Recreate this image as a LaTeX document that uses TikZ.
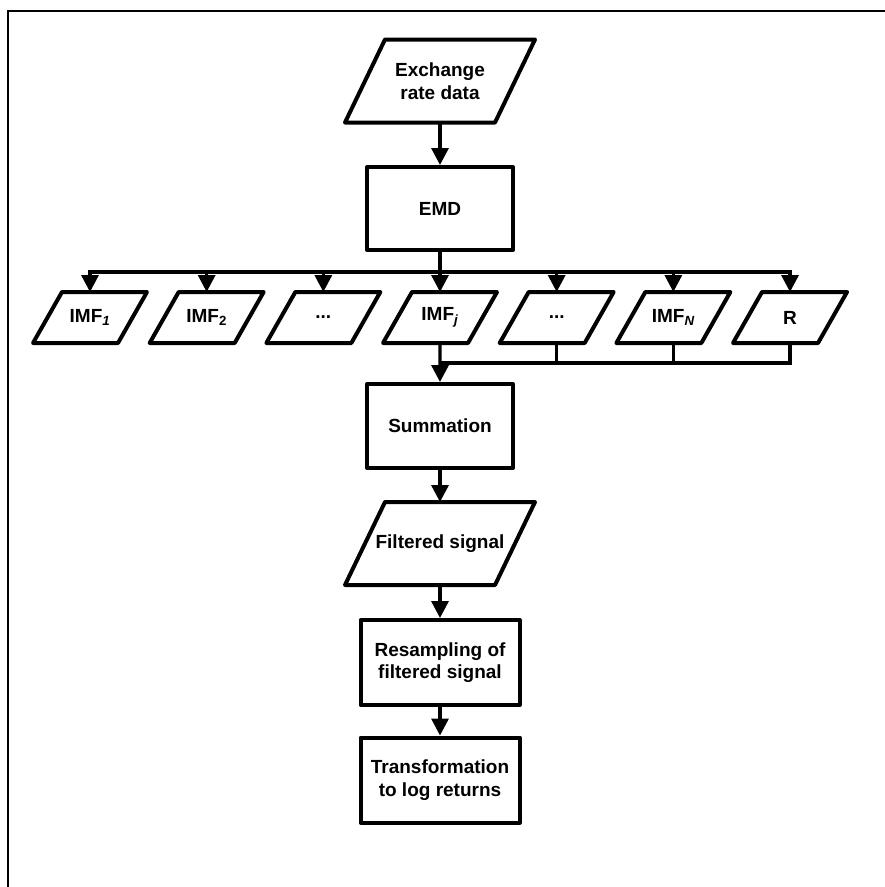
\documentclass[tikz,border=0pt]{standalone}
\usepackage{fontspec}
\setmainfont{Liberation Sans}
\usetikzlibrary{arrows.meta}
\newcommand\SlantFrame[2]{%
    \draw[frame] ([xshift=#2]#1.north west) -- ([xshift=#2]#1.north east)
        -- ([xshift=-#2]#1.south east) -- ([xshift=-#2]#1.south west) -- cycle;
}

\begin{document}
\begin{tikzpicture}[x=1pt,y=-1pt,
    every node/.style={font=\fontsize{19}{22.5}\selectfont\bfseries,align=center},
    frame/.style={line width=4pt,line join=round},
    box/.style={draw,frame,minimum width=146pt,minimum height=83pt},
    slanted/.style={inner sep=0pt,outer sep=0pt,minimum width=150pt,minimum height=83pt},
    smallslant/.style={slanted,minimum width=85pt,minimum height=51pt},
    arr/.style={line width=3.3pt,-{Triangle[width=17pt,length=17pt]}},
    wire/.style={line width=3.3pt}]
    \useasboundingbox (0,0) rectangle (885,887);
    \draw[line width=2pt] (7.5,887) |- (885,11);
    % input and decomposition
    \node[slanted] (data) at (440,81) {Exchange\\rate data};
    \SlantFrame{data}{20pt}
    \node[box] (emd) at (440,208.5) {EMD};
    \draw[arr] (data.south) -- (emd.north);
    \foreach \name/\txt [count=\k from 0] in {imf1/{IMF\textsubscript{\textit{1}}},imf2/{IMF\textsubscript{2}},
        imf3/{...},imf4/{IMF\textsubscript{\textit{j}}},imf5/{...},imf6/{IMF\textsubscript{\textit{N}}},imf7/R}
    {
        \node[smallslant] (\name) at (90+116.67*\k,317.5) {\txt};
        \SlantFrame{\name}{14.5pt}
    }
    \coordinate (bus) at (440,272);
    \coordinate (sink) at (440,363);
    \draw[wire] (emd.south) -- (bus);
    \draw[arr] (bus) -| (imf1.north);
    \draw[arr] (bus) -| (imf7.north);
    \foreach \k in {2,...,6}
        \draw[arr] (imf\k.north |- bus) -- (imf\k.north);
    % summation of chosen modes
    \node[box,minimum height=84pt] (sum) at (440,426) {Summation};
    \draw[wire] (imf7.south) |- (sink);
    \foreach \k in {5,6}
        \draw[wire] (imf\k.south) -- (imf\k.south |- sink);
    \draw[arr] (imf4.south) -- (sum.north);
    % post processing
    \node[slanted] (filt) at (440,543.5) {Filtered signal};
    \SlantFrame{filt}{20pt}
    \node[box,minimum width=159pt,minimum height=85pt] (resamp) at (440,662.5) {Resampling of\\filtered signal};
    \node[box,minimum width=159pt,minimum height=85pt] (trans) at (440,780) {Transformation\\to log returns};
    \draw[arr] (sum.south) -- (filt.north);
    \draw[arr] (filt.south) -- (resamp.north);
    \draw[arr] (resamp.south) -- (trans.north);
\end{tikzpicture}
\end{document}
